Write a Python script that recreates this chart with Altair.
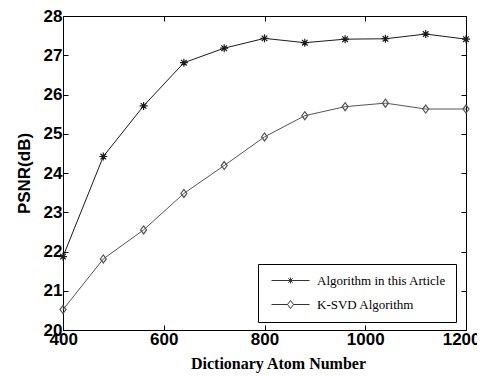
import altair as alt
import pandas as pd

atoms = [400, 480, 560, 640, 720, 800, 880, 960, 1040, 1120, 1200]
psnr_ours = [21.87, 24.42, 25.71, 26.81, 27.18, 27.43, 27.32, 27.41, 27.42, 27.54, 27.41]
psnr_ksvd = [20.52, 21.81, 22.55, 23.48, 24.19, 24.92, 25.46, 25.69, 25.78, 25.63, 25.63]
series_names = ["Algorithm in this Article", "K-SVD Algorithm"]
x_ticks = [400, 600, 800, 1000, 1200]
y_ticks = [20, 21, 22, 23, 24, 25, 26, 27, 28]

rows = []
for a, v in zip(atoms, psnr_ours):
    rows.append({"atoms": a, "psnr": v, "series": series_names[0]})
for a, v in zip(atoms, psnr_ksvd):
    rows.append({"atoms": a, "psnr": v, "series": series_names[1]})
df = pd.DataFrame(rows)

xscale = alt.Scale(domain=[400, 1200], nice=False, zero=False)
yscale = alt.Scale(domain=[20, 28], nice=False, zero=False)

star = "M-1,0L1,0M0,-1L0,1M-0.7,-0.7L0.7,0.7M-0.7,0.7L0.7,-0.7"
diamond = "M0,-1L0.75,0L0,1L-0.75,0Z"
leg_star = "M-3.8,0L3.8,0M0,-0.6L0,0.6M-0.45,-0.45L0.45,0.45M-0.45,0.45L0.45,-0.45"
leg_diamond = "M-3.8,0L-0.6,0M0.6,0L3.8,0M0,-0.8L0.6,0L0,0.8L-0.6,0Z"

sans = "Liberation Sans"
serif = "Liberation Serif"

bottom_axis = alt.Axis(orient="bottom", values=x_ticks, format="d", offset=-5, tickSize=5,
                       domain=False, grid=False, labelFlush=True, labelFlushOffset=14,
                       labelFont=sans,
                       labelFontSize=17, labelFontWeight="bold", labelColor="black",
                       tickColor="black", labelPadding=1, title="Dictionary Atom Number",
                       titleFont=serif, titleFontSize=16, titleFontWeight="bold",
                       titleColor="black", titlePadding=8, titleX=215)
left_axis = alt.Axis(orient="left", values=y_ticks, format="d", offset=-5, tickSize=5,
                     domain=False, grid=False, labelFlush=False, labelFont=sans,
                     labelFontSize=17, labelFontWeight="bold", labelColor="black",
                     tickColor="black", labelPadding=1, title="PSNR(dB)", titleFont=sans,
                     titleFontSize=17, titleFontWeight="bold", titleColor="black",
                     titlePadding=10)
top_axis = alt.Axis(orient="top", values=x_ticks, offset=-5, tickSize=5, domain=False,
                    grid=False, labels=False, tickColor="black", title=None)
right_axis = alt.Axis(orient="right", values=y_ticks, offset=-5, tickSize=5, domain=False,
                      grid=False, labels=False, tickColor="black", title=None)

stroke_scale = alt.Scale(domain=series_names, range=["#1a1a1a", "#555555"])

lines = alt.Chart(df).mark_line(strokeWidth=1).encode(
    x=alt.X("atoms:Q", scale=xscale, axis=bottom_axis),
    y=alt.Y("psnr:Q", scale=yscale, axis=left_axis),
    stroke=alt.Stroke("series:N", scale=stroke_scale, legend=None),
    detail="series:N",
)

points = alt.Chart(df).mark_point(filled=False, strokeWidth=1.2, size=64, opacity=1).encode(
    x=alt.X("atoms:Q", scale=xscale, axis=None),
    y=alt.Y("psnr:Q", scale=yscale, axis=None),
    stroke=alt.Stroke("series:N", scale=stroke_scale, legend=None),
    shape=alt.Shape("series:N", scale=alt.Scale(domain=series_names, range=[star, diamond]), legend=None),
)

legend_layer = alt.Chart(df).transform_filter("false").mark_point(
    filled=False, strokeWidth=1, color="#333333", opacity=1
).encode(
    x=alt.X("atoms:Q", scale=xscale, axis=top_axis),
    y=alt.Y("psnr:Q", scale=yscale, axis=right_axis),
    shape=alt.Shape(
        "series:N",
        scale=alt.Scale(domain=series_names, range=[leg_star, leg_diamond]),
        legend=alt.Legend(orient="none", legendX=195, legendY=248, title=None,
                          strokeColor="black", fillColor="white", padding=10,
                          symbolSize=100, symbolStrokeWidth=1, symbolStrokeColor="#333333",
                          symbolOffset=16, labelFont=serif, labelFontSize=13,
                          labelColor="black", labelOffset=20, rowPadding=10),
    ),
)

chart = alt.layer(lines, points, legend_layer).resolve_scale(
    shape="independent"
).resolve_axis(x="independent", y="independent").properties(
    width=403, height=314,
    autosize=alt.AutoSizeParams(type="none"),
    padding={"left": 55, "top": 8, "right": 11, "bottom": 46},
).configure_view(stroke="black", strokeWidth=1)

chart.save("out.html", embed_options={"renderer": "svg", "actions": False})
